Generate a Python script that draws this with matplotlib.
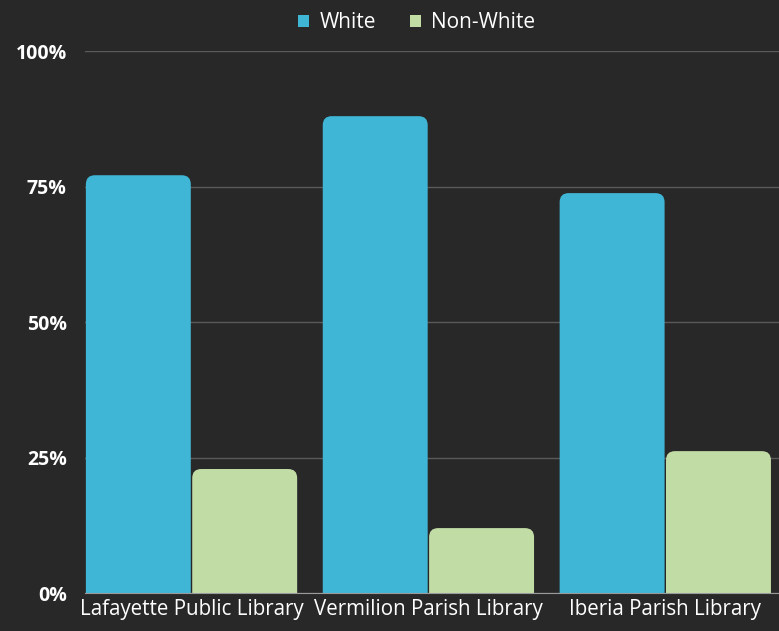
import matplotlib
matplotlib.use("Agg")
import matplotlib.pyplot as plt
from matplotlib.patches import FancyBboxPatch
import numpy as np

libraries = ["Lafayette Public Library", "Vermilion Parish Library", "Iberia Parish Library"]
white = [77.1, 88.0, 73.8]
non_white = [22.9, 12.0, 26.2]
series = [("White", white, "#40b6d6"), ("Non-White", non_white, "#c2dca6")]
yticks = [0, 25, 50, 75, 100]

plt.rcParams["font.family"] = ["Open Sans", "DejaVu Sans"]
bg = "#282828"

fig = plt.figure(figsize=(7.79, 6.31), dpi=100, facecolor=bg)
ax = fig.add_axes([0.109, 0.06, 0.891, 0.859], facecolor=bg)

x = np.arange(len(libraries))
width = 0.443
gap = 0.006
xlim = (-0.45, 2.48)
ylim = (0, 100)
ax.set_xlim(*xlim)
ax.set_ylim(*ylim)

# keep the corner radius round in pixels
bbox = ax.get_position()
px_x = bbox.width * fig.get_figwidth() * fig.dpi / (xlim[1] - xlim[0])
px_y = bbox.height * fig.get_figheight() * fig.dpi / (ylim[1] - ylim[0])
radius = 9 / px_x
aspect = px_x / px_y

for i, (name, vals, color) in enumerate(series):
    offset = (i - 0.5) * (width + gap)
    for xi, v in zip(x, vals):
        left = xi + offset - width / 2
        p = FancyBboxPatch((left, -5), width, v + 5,
                           boxstyle="round,pad=0,rounding_size=%f" % radius,
                           mutation_aspect=aspect, facecolor=color,
                           edgecolor="none", zorder=3)
        ax.add_patch(p)
    ax.bar([0], [0], color=color, label=name)

ax.set_yticks(yticks)
ax.set_yticklabels(["%d%%" % t for t in yticks])
ax.set_xticks(x)
ax.set_xticklabels(libraries)
ax.grid(axis="y", color="#5a5a5a", linewidth=1, zorder=0)
ax.tick_params(length=0, colors="white")
ax.tick_params(axis="y", pad=13, labelsize=14)
ax.tick_params(axis="x", pad=4, labelsize=14.8)
for lab in ax.get_yticklabels():
    lab.set_fontweight("bold")
for s in ["top", "right", "left"]:
    ax.spines[s].set_visible(False)
ax.spines["bottom"].set_color("#9a9a9a")
ax.spines["bottom"].set_zorder(4)

fig.legend(loc="upper center", bbox_to_anchor=(0.535, 1.01), ncol=2, frameon=False,
           labelcolor="white", fontsize=15, handlelength=0.55, handleheight=0.55,
           handletextpad=0.5, columnspacing=1.6)

fig.savefig("out.png", dpi=100, facecolor=bg)
